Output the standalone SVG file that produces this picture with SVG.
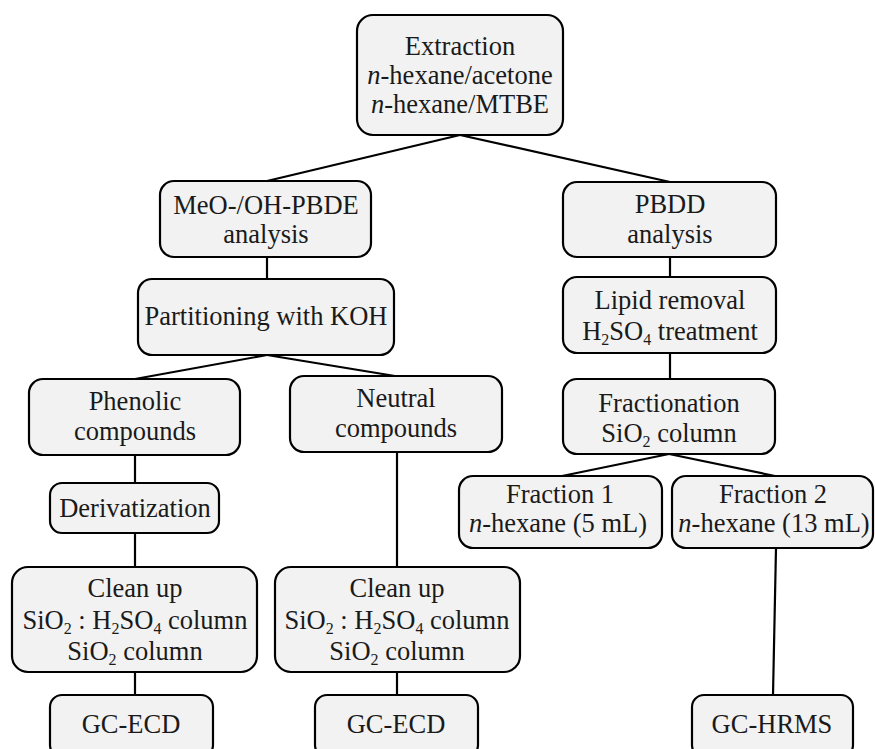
<svg xmlns="http://www.w3.org/2000/svg" width="875" height="749" viewBox="0 0 875 749">
<style>
.box{fill:#f2f2f2;stroke:#000;stroke-width:2.2}
text{font-family:'Liberation Serif','Times New Roman',serif;font-size:26.5px;fill:#1a1a1a;text-anchor:middle}
.s{font-size:16px}
.c line{stroke:#000;stroke-width:2.2}
</style>
<rect width="875" height="749" fill="#fff"/>
<g class="c" id="connectors">
<line x1="460" y1="135" x2="267" y2="181"/>
<line x1="460" y1="135" x2="670" y2="182"/>
<line x1="267" y1="257" x2="267" y2="279"/>
<line x1="267" y1="355" x2="135" y2="379"/>
<line x1="267" y1="355" x2="395" y2="376"/>
<line x1="135" y1="455" x2="135" y2="483"/>
<line x1="135" y1="533" x2="135" y2="567"/>
<line x1="135" y1="672" x2="135" y2="695"/>
<line x1="397" y1="452" x2="397" y2="567"/>
<line x1="397" y1="672" x2="397" y2="695"/>
<line x1="670" y1="257" x2="670" y2="277"/>
<line x1="670" y1="353" x2="670" y2="379"/>
<line x1="669" y1="454" x2="562" y2="476"/>
<line x1="669" y1="454" x2="775" y2="476"/>
<line x1="776" y1="548" x2="773" y2="695"/>
</g>
<g id="extraction">
<rect class="box" x="357" y="15" width="206" height="120" rx="16"/>
<text x="460" y="55">Extraction</text>
<text x="460" y="84"><tspan font-style="italic">n</tspan>-hexane/acetone</text>
<text x="460" y="113"><tspan font-style="italic">n</tspan>-hexane/MTBE</text>
</g>
<g id="meo-oh-pbde">
<rect class="box" x="160" y="181" width="211" height="76" rx="14"/>
<text x="266" y="214">MeO-/OH-PBDE</text>
<text x="266" y="243">analysis</text>
</g>
<g id="partitioning">
<rect class="box" x="138" y="279" width="256" height="76" rx="14"/>
<text x="266" y="325">Partitioning with KOH</text>
</g>
<g id="phenolic">
<rect class="box" x="29" y="379" width="211" height="76" rx="14"/>
<text x="135" y="410">Phenolic</text>
<text x="135" y="440">compounds</text>
</g>
<g id="derivatization">
<rect class="box" x="50" y="483" width="169" height="50" rx="12"/>
<text x="135" y="517">Derivatization</text>
</g>
<g id="neutral">
<rect class="box" x="290" y="376" width="212" height="76" rx="14"/>
<text x="396" y="407">Neutral</text>
<text x="396" y="437">compounds</text>
</g>
<g id="cleanup-left">
<rect class="box" x="12" y="567" width="245" height="105" rx="16"/>
<text x="135" y="597">Clean up</text>
<text x="135" y="629">SiO<tspan class="s" dy="5">2</tspan><tspan dy="-5"> : H</tspan><tspan class="s" dy="5">2</tspan><tspan dy="-5">SO</tspan><tspan class="s" dy="5">4</tspan><tspan dy="-5"> column</tspan></text>
<text x="135" y="660">SiO<tspan class="s" dy="5">2</tspan><tspan dy="-5"> column</tspan></text>
</g>
<g id="cleanup-mid">
<rect class="box" x="275" y="567" width="245" height="105" rx="16"/>
<text x="397" y="597">Clean up</text>
<text x="397" y="629">SiO<tspan class="s" dy="5">2</tspan><tspan dy="-5"> : H</tspan><tspan class="s" dy="5">2</tspan><tspan dy="-5">SO</tspan><tspan class="s" dy="5">4</tspan><tspan dy="-5"> column</tspan></text>
<text x="397" y="660">SiO<tspan class="s" dy="5">2</tspan><tspan dy="-5"> column</tspan></text>
</g>
<g id="gc-ecd-left">
<rect class="box" x="50" y="695" width="163" height="62" rx="12"/>
<text x="131" y="733">GC-ECD</text>
</g>
<g id="gc-ecd-mid">
<rect class="box" x="315" y="695" width="163" height="62" rx="12"/>
<text x="396" y="733">GC-ECD</text>
</g>
<g id="pbdd">
<rect class="box" x="563" y="182" width="213" height="75" rx="14"/>
<text x="670" y="213">PBDD</text>
<text x="670" y="243">analysis</text>
</g>
<g id="lipid">
<rect class="box" x="563" y="277" width="213" height="76" rx="14"/>
<text x="670" y="309">Lipid removal</text>
<text x="670" y="340">H<tspan class="s" dy="5">2</tspan><tspan dy="-5">SO</tspan><tspan class="s" dy="5">4</tspan><tspan dy="-5"> treatment</tspan></text>
</g>
<g id="fractionation">
<rect class="box" x="563" y="379" width="212" height="75" rx="14"/>
<text x="669" y="412">Fractionation</text>
<text x="669" y="442">SiO<tspan class="s" dy="5">2</tspan><tspan dy="-5"> column</tspan></text>
</g>
<g id="fraction1">
<rect class="box" x="459" y="476" width="203" height="72" rx="14"/>
<text x="560" y="503">Fraction 1</text>
<text x="558" y="532"><tspan font-style="italic">n</tspan>-hexane (5 mL)</text>
</g>
<g id="fraction2">
<rect class="box" x="672" y="476" width="201" height="72" rx="14"/>
<text x="773" y="503">Fraction 2</text>
<text x="774" y="532"><tspan font-style="italic">n</tspan>-hexane (13 mL)</text>
</g>
<g id="gc-hrms">
<rect class="box" x="692" y="695" width="161" height="62" rx="12"/>
<text x="772" y="733">GC-HRMS</text>
</g>
</svg>
